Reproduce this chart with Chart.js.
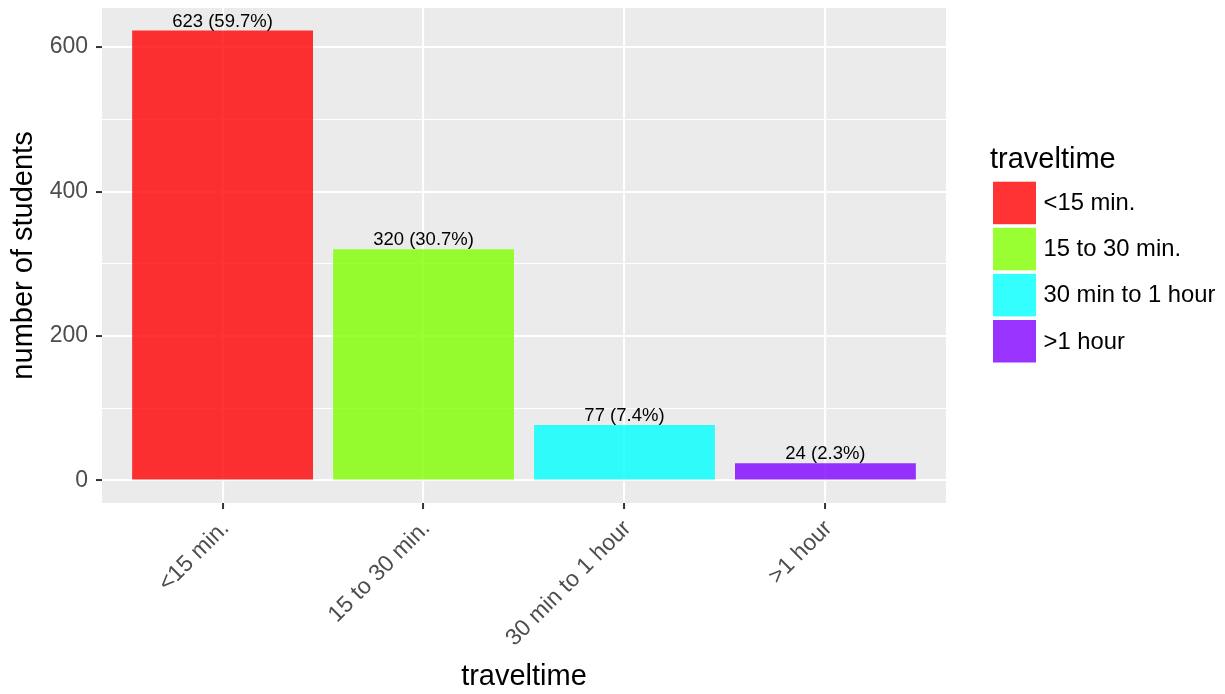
<!DOCTYPE html>
<html>
<head>
<meta charset="utf-8">
<script src="https://cdn.jsdelivr.net/npm/chart.js@4.4.0/dist/chart.umd.min.js"></script>
<style>
  html, body { margin: 0; padding: 0; background: #fff; }
</style>
</head>
<body>
<canvas id="myChart" width="1225" height="694"></canvas>
<script>
var categories = ['<15 min.', '15 to 30 min.', '30 min to 1 hour', '>1 hour'];
var students = [623, 320, 77, 24];
var yTicks = [0, 100, 200, 300, 400, 500, 600];
var barColors = ['rgba(255,0,0,0.8)', 'rgba(128,255,0,0.8)', 'rgba(0,255,255,0.8)', 'rgba(128,0,255,0.8)'];
var legendTitle = 'traveltime';

var FONT = '"Liberation Sans", Arial, sans-serif';
var total = students.reduce((a, b) => a + b, 0);

// grey panel behind the grid, like ggplot
const panelBg = {
  id: 'panelBg',
  beforeDraw(chart) {
    const ctx = chart.ctx, a = chart.chartArea;
    ctx.save();
    ctx.fillStyle = '#fff';
    ctx.fillRect(0, 0, chart.width, chart.height);
    ctx.fillStyle = '#EBEBEB';
    ctx.fillRect(a.left, a.top, a.right - a.left, a.bottom - a.top);
    ctx.restore();
  }
};

// "n (p%)" above each bar
const barLabels = {
  id: 'barLabels',
  afterDatasetsDraw(chart) {
    const ctx = chart.ctx;
    const meta = chart.getDatasetMeta(0);
    ctx.save();
    ctx.font = '18.5px ' + FONT;
    ctx.fillStyle = '#000';
    ctx.textAlign = 'center';
    ctx.textBaseline = 'alphabetic';
    meta.data.forEach((bar, i) => {
      const pct = (students[i] / total * 100).toFixed(1);
      ctx.fillText(students[i] + ' (' + pct + '%)', bar.x, bar.y - 4);
    });
    ctx.restore();
  }
};

// legend on the right
const sideLegend = {
  id: 'sideLegend',
  afterDraw(chart) {
    const ctx = chart.ctx;
    ctx.save();
    ctx.fillStyle = '#000';
    ctx.font = '29px ' + FONT;
    ctx.textAlign = 'left';
    ctx.textBaseline = 'alphabetic';
    ctx.fillText(legendTitle, 990, 168);
    ctx.font = '23.8px ' + FONT;
    ctx.textBaseline = 'middle';
    categories.forEach((c, i) => {
      const top = 181.7 + i * 46.1;
      ctx.fillStyle = barColors[i];
      ctx.fillRect(993, top, 43, 42.5);
      ctx.fillStyle = '#000';
      ctx.fillText(c, 1043.5, top + 22);
    });
    ctx.restore();
  }
};

new Chart('myChart', {
  type: 'bar',
  data: {
    datasets: [{
      data: students.map((v, i) => ({ x: i, y: v })),
      backgroundColor: barColors,
      borderWidth: 0,
      barPercentage: 0.9,
      categoryPercentage: 1.0
    }]
  },
  options: {
    responsive: false,
    animation: false,
    devicePixelRatio: 1,
    layout: { padding: { left: 0, top: 8, right: 279, bottom: 0 } },
    plugins: {
      legend: { display: false },
      tooltip: { enabled: false }
    },
    scales: {
      x: {
        type: 'linear',
        min: -0.6,
        max: 3.6,
        offset: false,
        afterBuildTicks: (s) => { s.ticks = categories.map((c, i) => ({ value: i })); },
        afterFit: (s) => { s.height = 191; s.paddingLeft = 0; s.paddingRight = 0; },
        border: { display: false },
        grid: {
          offset: false,
          color: '#fff',
          lineWidth: 2.1,
          tickLength: 6,
          tickColor: '#333',
          tickWidth: 2
        },
        ticks: {
          autoSkip: false,
          minRotation: 45,
          maxRotation: 45,
          padding: 6,
          labelOffset: 3,
          color: '#4D4D4D',
          font: { family: FONT, size: 23 },
          callback: (v) => categories[v]
        },
        title: {
          display: true,
          text: 'traveltime',
          color: '#000',
          font: { family: FONT, size: 29 },
          padding: { top: 0, bottom: 0 }
        }
      },
      y: {
        min: -31.15,
        max: 654.15,
        afterBuildTicks: (s) => { s.ticks = yTicks.map(v => ({ value: v })); },
        afterFit: (s) => { s.width = 102; s.paddingTop = 0; s.paddingBottom = 0; },
        border: { display: false },
        grid: {
          color: '#fff',
          lineWidth: (c) => (c.tick && c.tick.value % 200 === 0) ? 2.1 : 1.05,
          tickLength: 6,
          tickColor: (c) => (c.tick && c.tick.value % 200 === 0) ? '#333' : 'rgba(0,0,0,0)',
          tickWidth: 2
        },
        ticks: {
          padding: 8,
          color: '#4D4D4D',
          font: { family: FONT, size: 23 },
          callback: (v) => (v % 200 === 0 ? String(v) : '')
        },
        title: {
          display: true,
          text: 'number of students',
          color: '#000',
          font: { family: FONT, size: 29 },
          padding: { top: 7, bottom: 0 }
        }
      }
    }
  },
  plugins: [panelBg, barLabels, sideLegend]
});
</script>
</body>
</html>
